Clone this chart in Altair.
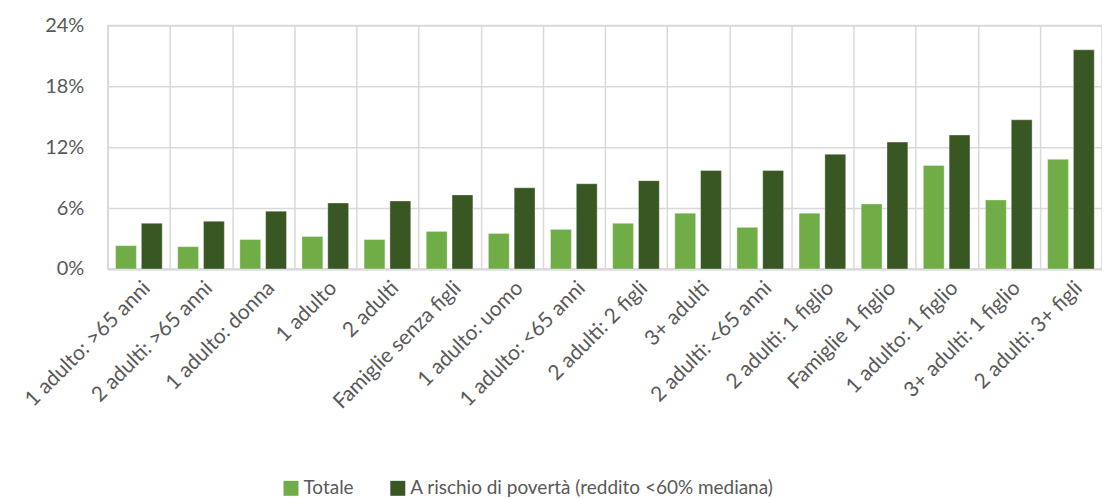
import altair as alt
import pandas as pd

categorie = ["1 adulto: >65 anni", "2 adulti: >65 anni", "1 adulto: donna", "1 adulto",
             "2 adulti", "Famiglie senza figli", "1 adulto: uomo", "1 adulto: <65 anni",
             "2 adulti: 2 figli", "3+ adulti", "2 adulti: <65 anni", "2 adulti: 1 figlio",
             "Famiglie 1 figlio", "1 adulto: 1 figlio", "3+ adulti: 1 figlio", "2 adulti: 3+ figli"]
totale = [2.3, 2.2, 2.9, 3.2, 2.9, 3.7, 3.5, 3.9, 4.5, 5.5, 4.1, 5.5, 6.4, 10.2, 6.8, 10.8]
rischio = [4.5, 4.7, 5.7, 6.5, 6.7, 7.3, 8.0, 8.4, 8.7, 9.7, 9.7, 11.3, 12.5, 13.2, 14.7, 21.6]
serie = ["Totale", "A rischio di povertà (reddito <60% mediana)"]
colori = ["#70AD47", "#385723"]

rows = []
for c, t, r in zip(categorie, totale, rischio):
    rows.append({"cat": c, "serie": serie[0], "val": t / 100})
    rows.append({"cat": c, "serie": serie[1], "val": r / 100})
df = pd.DataFrame(rows)

FONT = "Lato"
GREY = "#595959"
GRID = "#D9D9D9"

chart = alt.Chart(df).mark_bar(stroke="white", strokeWidth=1, strokeOpacity=0.35).encode(
    x=alt.X("cat:N", sort=categorie, title=None,
            scale=alt.Scale(paddingInner=0, paddingOuter=0),
            axis=alt.Axis(labelAngle=-45, labelFont=FONT, labelFontSize=21, labelColor=GREY,
                          ticks=False, domain=True, domainColor=GRID, domainWidth=2,
                          grid=True, gridColor=GRID, gridWidth=1.5, tickBand="extent",
                          labelPadding=8, labelLimit=400)),
    xOffset=alt.XOffset("serie:N", sort=serie,
                        scale=alt.Scale(paddingInner=0.192, paddingOuter=0.3)),
    y=alt.Y("val:Q", title=None,
            scale=alt.Scale(domain=[0, 0.24], nice=False),
            axis=alt.Axis(values=[0, 0.06, 0.12, 0.18, 0.24], format=".0%",
                          labelFont=FONT, labelFontSize=20, labelColor=GREY,
                          ticks=False, domain=False, labelPadding=24,
                          grid=True, gridColor=GRID, gridWidth=1.5)),
    color=alt.Color("serie:N", sort=serie,
                    scale=alt.Scale(domain=serie, range=colori),
                    legend=alt.Legend(title=None, orient="none", direction="horizontal",
                                      legendX=174, legendY=454,
                                      symbolType="square", symbolSize=225,
                                      symbolStrokeWidth=0, labelFont=FONT,
                                      labelFontSize=19, labelColor=GREY, labelLimit=0,
                                      labelOffset=3, columnPadding=34, padding=0)),
).properties(
    width=996, height=244,
    autosize=alt.AutoSizeParams(type="none"),
    padding={"left": 100, "top": 17, "right": 0, "bottom": 229},
).configure_view(stroke=GRID, strokeWidth=1.5)

chart.save("out.html", embed_options={"renderer": "svg", "actions": False})
